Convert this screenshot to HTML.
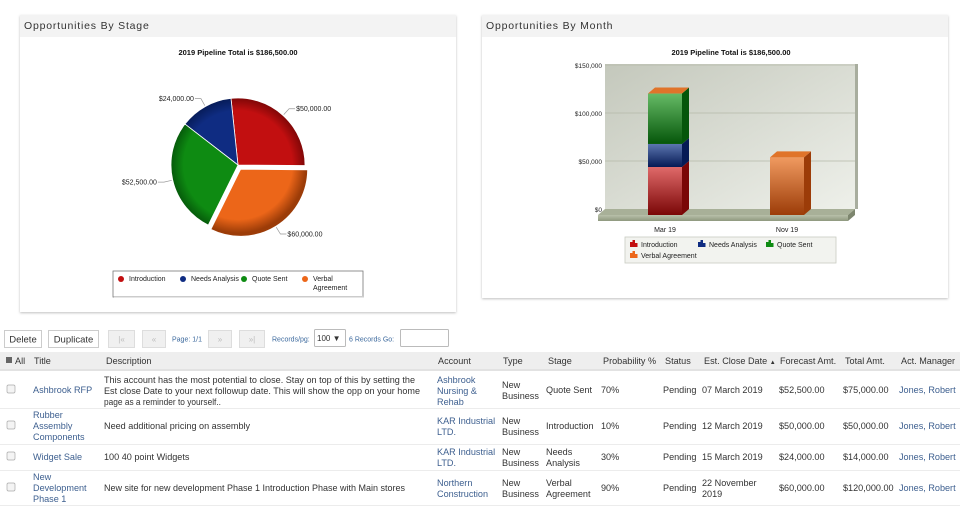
<!DOCTYPE html>
<html><head><meta charset="utf-8">
<style>
html,body{margin:0;padding:0;background:#fff;width:960px;height:507px;overflow:hidden}
svg{display:block;font-family:"Liberation Sans",Arial,sans-serif}
</style></head>
<body>
<svg id="page" width="960" height="507" viewBox="0 0 960 507" xmlns="http://www.w3.org/2000/svg">
<defs>
  <filter id="sh" x="-5%" y="-5%" width="110%" height="110%"><feDropShadow dx="0" dy="1" stdDeviation="1.2" flood-color="#000" flood-opacity="0.25"/></filter>
  <linearGradient id="wall" x1="0" y1="0" x2="1" y2="1"><stop offset="0" stop-color="#c4c8bc"/><stop offset="1" stop-color="#eef0ea"/></linearGradient>
  <linearGradient id="floor" x1="0" y1="0" x2="0" y2="1"><stop offset="0" stop-color="#b8c0aa"/><stop offset="1" stop-color="#8e987e"/></linearGradient>
</defs>
<rect x="0" y="0" width="960" height="507" fill="#fff"/>

<g>
  <rect x="20" y="15" width="436" height="297" fill="#fff" filter="url(#sh)"/>
  <rect x="20" y="15" width="436" height="22" fill="#f3f3f3"/>
  <text x="24" y="29" font-size="10.5" letter-spacing="0.8" fill="#333">Opportunities By Stage</text>
  <text x="238" y="55" font-size="7.5" font-weight="bold" text-anchor="middle" fill="#111">2019 Pipeline Total is $186,500.00</text>
  <g id="pie"></g>
  <g>
    <rect x="113" y="271" width="250" height="26" fill="#fff" stroke="#777" stroke-width="0.8"/>
    <rect x="114" y="296" width="250" height="1.5" fill="#ccc"/>
    <g id="pieLegend"></g>
  </g>
</g>

<g>
  <rect x="482" y="15" width="466" height="283" fill="#fff" filter="url(#sh)"/>
  <rect x="482" y="15" width="466" height="22" fill="#f3f3f3"/>
  <text x="486" y="29" font-size="10.5" letter-spacing="0.8" fill="#333">Opportunities By Month</text>
  <text x="731" y="55" font-size="7.5" font-weight="bold" text-anchor="middle" fill="#111">2019 Pipeline Total is $186,500.00</text>
  <g id="bars"></g>
  <g>
    <rect x="625" y="237" width="211" height="26" fill="#f2f3ef" stroke="#c8cbc2" stroke-width="0.8"/>
    <g id="barLegend"></g>
  </g>
</g>

<g font-size="9.5">
  <g><rect x="4.5" y="330.5" width="37" height="17" fill="#fff" stroke="#ccc"/><text x="23" y="342.5" text-anchor="middle" fill="#333">Delete</text></g>
  <g><rect x="48.5" y="330.5" width="50" height="17" fill="#fff" stroke="#ccc"/><text x="73.5" y="342.5" text-anchor="middle" fill="#333">Duplicate</text></g>
  <g><rect x="108.5" y="330.5" width="26" height="17" fill="#f0f0f0" stroke="#ddd"/><text x="121.5" y="342" text-anchor="middle" fill="#bbb" font-size="8">|«</text></g>
  <g><rect x="142.5" y="330.5" width="23" height="17" fill="#f0f0f0" stroke="#ddd"/><text x="154" y="342" text-anchor="middle" fill="#bbb" font-size="8">«</text></g>
  <text x="172" y="341.5" font-size="7" fill="#3d6a9e">Page: 1/1</text>
  <g><rect x="208.5" y="330.5" width="23" height="17" fill="#f0f0f0" stroke="#ddd"/><text x="220" y="342" text-anchor="middle" fill="#bbb" font-size="8">»</text></g>
  <g><rect x="239.5" y="330.5" width="25" height="17" fill="#f0f0f0" stroke="#ddd"/><text x="252" y="342" text-anchor="middle" fill="#bbb" font-size="8">»|</text></g>
  <text x="272" y="341.5" font-size="7" fill="#3d6a9e">Records/pg:</text>
  <g><rect x="314.5" y="329.5" width="31" height="17" fill="#fff" stroke="#bbb" rx="1"/><text x="317" y="341" font-size="8" fill="#333">100 ▼</text></g>
  <text x="349" y="341.5" font-size="7" fill="#3d6a9e">6 Records  Go:</text>
  <rect x="400.5" y="329.5" width="48" height="17" fill="#fff" stroke="#bbb" rx="1"/>
</g>

<g font-size="9.1" fill="#333">
  <rect x="0" y="352" width="960" height="18" fill="#eeeeee"/>
  <rect x="0" y="369" width="960" height="2" fill="#e2e2e2"/>
  <g fill="#333">
    <rect x="6" y="357" width="6" height="6" fill="#666"/>
    <text x="15" y="364">All</text>
    <text x="34" y="364">Title</text>
    <text x="106" y="364">Description</text>
    <text x="438" y="364">Account</text>
    <text x="503" y="364">Type</text>
    <text x="548" y="364">Stage</text>
    <text x="603" y="364">Probability %</text>
    <text x="665" y="364">Status</text>
    <text x="704" y="364">Est. Close Date <tspan font-size="6">▲</tspan></text>
    <text x="780" y="364">Forecast Amt.</text>
    <text x="845" y="364">Total Amt.</text>
    <text x="901" y="364">Act. Manager</text>
  </g>
  <g stroke="#ececec" stroke-width="1">
    <line x1="0" y1="408.5" x2="960" y2="408.5"/><line x1="0" y1="444.5" x2="960" y2="444.5"/><line x1="0" y1="470.5" x2="960" y2="470.5"/><line x1="0" y1="505.5" x2="960" y2="505.5"/>
  </g>
  <g>
    <rect x="7" y="385" width="8" height="8" rx="1.5" fill="#f4f4f4" stroke="#aaa" stroke-width="0.7"/>
    <text x="33" y="393" fill="#3d5f8f">Ashbrook RFP</text>
    <text x="104" y="383" textLength="311" lengthAdjust="spacingAndGlyphs">This account has the most potential to close. Stay on top of this by setting the</text>
    <text x="104" y="394" textLength="316" lengthAdjust="spacingAndGlyphs">Est close Date to your next followup date. This will show the opp on your home</text>
    <text x="104" y="405" textLength="117" lengthAdjust="spacingAndGlyphs">page as a reminder to yourself..</text>
    <text x="437" y="383" fill="#3d5f8f">Ashbrook</text><text x="437" y="394" fill="#3d5f8f">Nursing &amp;</text><text x="437" y="405" fill="#3d5f8f">Rehab</text>
    <text x="502" y="388">New</text><text x="502" y="399">Business</text>
    <text x="546" y="393">Quote Sent</text><text x="601" y="393">70%</text><text x="663" y="393">Pending</text>
    <text x="702" y="393">07 March 2019</text><text x="779" y="393">$52,500.00</text><text x="843" y="393">$75,000.00</text>
    <text x="899" y="393" fill="#3d5f8f">Jones, Robert</text>
  </g>
  <g>
    <rect x="7" y="421" width="8" height="8" rx="1.5" fill="#f4f4f4" stroke="#aaa" stroke-width="0.7"/>
    <text x="33" y="418" fill="#3d5f8f">Rubber</text><text x="33" y="429" fill="#3d5f8f">Assembly</text><text x="33" y="440" fill="#3d5f8f">Components</text>
    <text x="104" y="429">Need additional pricing on assembly</text>
    <text x="437" y="424" fill="#3d5f8f">KAR Industrial</text><text x="437" y="435" fill="#3d5f8f">LTD.</text>
    <text x="502" y="424">New</text><text x="502" y="435">Business</text>
    <text x="546" y="429">Introduction</text><text x="601" y="429">10%</text><text x="663" y="429">Pending</text>
    <text x="702" y="429">12 March 2019</text><text x="779" y="429">$50,000.00</text><text x="843" y="429">$50,000.00</text>
    <text x="899" y="429" fill="#3d5f8f">Jones, Robert</text>
  </g>
  <g>
    <rect x="7" y="452" width="8" height="8" rx="1.5" fill="#f4f4f4" stroke="#aaa" stroke-width="0.7"/>
    <text x="33" y="460" fill="#3d5f8f">Widget Sale</text>
    <text x="104" y="460">100 40 point Widgets</text>
    <text x="437" y="455" fill="#3d5f8f">KAR Industrial</text><text x="437" y="466" fill="#3d5f8f">LTD.</text>
    <text x="502" y="455">New</text><text x="502" y="466">Business</text>
    <text x="546" y="455">Needs</text><text x="546" y="466">Analysis</text><text x="601" y="460">30%</text><text x="663" y="460">Pending</text>
    <text x="702" y="460">15 March 2019</text><text x="779" y="460">$24,000.00</text><text x="843" y="460">$14,000.00</text>
    <text x="899" y="460" fill="#3d5f8f">Jones, Robert</text>
  </g>
  <g>
    <rect x="7" y="483" width="8" height="8" rx="1.5" fill="#f4f4f4" stroke="#aaa" stroke-width="0.7"/>
    <text x="33" y="480" fill="#3d5f8f">New</text><text x="33" y="491" fill="#3d5f8f">Development</text><text x="33" y="502" fill="#3d5f8f">Phase 1</text>
    <text x="104" y="491" textLength="301" lengthAdjust="spacingAndGlyphs">New site for new development Phase 1 Introduction Phase with Main stores</text>
    <text x="437" y="486" fill="#3d5f8f">Northern</text><text x="437" y="497" fill="#3d5f8f">Construction</text>
    <text x="502" y="486">New</text><text x="502" y="497">Business</text>
    <text x="546" y="486">Verbal</text><text x="546" y="497">Agreement</text><text x="601" y="491">90%</text><text x="663" y="491">Pending</text>
    <text x="702" y="486">22 November</text><text x="702" y="497">2019</text><text x="779" y="491">$60,000.00</text><text x="843" y="491">$120,000.00</text>
    <text x="899" y="491" fill="#3d5f8f">Jones, Robert</text>
  </g>
</g>
</svg>
<script>
// ---- Pie data ----
const stageLabels = ['Introduction','Needs Analysis','Quote Sent','Verbal Agreement'];
const stageValues = [50000, 24000, 52500, 60000];
const stageValueLabels = ['$50,000.00','$24,000.00','$52,500.00','$60,000.00'];
// ---- Bar data ----
const months = ['Mar 19','Nov 19'];
const introByMonth = [50000, 0];
const needsByMonth = [24000, 0];
const quoteByMonth = [52500, 0];
const verbalByMonth = [0, 60000];
const yTickValues = [0, 50000, 100000, 150000];
const yTickLabels = ['$0','$50,000','$100,000','$150,000'];

const NS = 'http://www.w3.org/2000/svg';
function mk(tag, attrs, parent){const e=document.createElementNS(NS,tag);for(const k in attrs)e.setAttribute(k,attrs[k]);if(parent)parent.appendChild(e);return e;}
const colors = ['#c20f10','#0f2c82','#0e8b12','#ec6619'];
const darkColors = ['#7a0606','#061a55','#05560a','#9c3c08'];
const lightColors = ['#e06a6a','#5c76b0','#66bb66','#f09a60'];

const defs = document.querySelector('defs');
colors.forEach((c,i)=>{
  const g = mk('radialGradient',{id:'pg'+i,cx:'238',cy:'165',r:'68',gradientUnits:'userSpaceOnUse'},defs);
  mk('stop',{offset:'0.8','stop-color':c},g);
  mk('stop',{offset:'1','stop-color':darkColors[i]},g);
  const f = mk('linearGradient',{id:'bf'+i,x1:'0',y1:'0',x2:'0',y2:'1'},defs);
  mk('stop',{offset:'0','stop-color':lightColors[i]},f);
  mk('stop',{offset:'1','stop-color':darkColors[i]},f);
});

// ---- Pie (slices run counter-clockwise from 3 o'clock) ----
const pie = document.getElementById('pie');
const cx=238, cy=165, R=67;
const total = stageValues.reduce((a,b)=>a+b,0);
// angle measured clockwise from 12 o'clock; go counter-clockwise (decreasing)
let ang = 90.5*Math.PI/180;
const P = a => [Math.sin(a), -Math.cos(a)];
stageValues.forEach((v,i)=>{
  const a1=ang, a0=ang-v/total*2*Math.PI; ang=a0;
  const mid=(a0+a1)/2;
  const ex = i===3?5:0;
  const ox=cx+ex*Math.sin(mid), oy=cy-ex*Math.cos(mid);
  const x0=ox+R*Math.sin(a0), y0=oy-R*Math.cos(a0), x1=ox+R*Math.sin(a1), y1=oy-R*Math.cos(a1);
  const large=(a1-a0)>Math.PI?1:0;
  const d=`M${ox},${oy} L${x0},${y0} A${R},${R} 0 ${large} 1 ${x1},${y1} Z`;
  const p = mk('path',{d:d,fill:'url(#pg'+i+')',stroke:'#fff','stroke-width':'0.8'},pie);
  
  
  const sx=ox+(R+1)*Math.sin(mid), sy=oy-(R+1)*Math.cos(mid);
  const lx=ox+(R+9)*Math.sin(mid), ly=oy-(R+9)*Math.cos(mid);
  const right=Math.sin(mid)>=0;
  const ex2 = lx+(right?6:-6);
  const ln = mk('polyline',{points:`${sx},${sy} ${lx},${ly} ${ex2},${ly}`,fill:'none',stroke:'#999','stroke-width':'0.7'},pie);
  
  
  const t = mk('text',{x:ex2+(right?1:-1),y:ly+2.5,'font-size':'7','text-anchor':right?'start':'end',fill:'#222'},pie);
  t.textContent = stageValueLabels[i];
  
  
});
const pl = document.getElementById('pieLegend');
const plx=[121,183,244,305];
stageLabels.forEach((s,i)=>{
  const g=mk('g',{},pl);
  
  
  mk('circle',{cx:plx[i],cy:279,r:3,fill:colors[i]},g);
  if(i===3){
    const t1=mk('text',{x:plx[i]+8,y:281,'font-size':'7',fill:'#222'},g);t1.textContent='Verbal';
    const t2=mk('text',{x:plx[i]+8,y:290,'font-size':'7',fill:'#222'},g);t2.textContent='Agreement';
  } else {
    const t=mk('text',{x:plx[i]+8,y:281,'font-size':'7',fill:'#222'},g);t.textContent=s;
  }
});

// ---- Bars ----
const bars = document.getElementById('bars');
const base=215, k=0.96/1000, dx=7, dy=-6;
const yF = v => base - v*k;
const xC = i => 665 + i*122;
const bw = 34;
const wall = mk('polygon',{points:`605,64 855,64 855,${yF(0)+dy} 605,${yF(0)+dy}`,fill:'url(#wall)'},bars);


mk('rect',{x:855,y:64,width:3,height:yF(0)+dy-64,fill:'#a8ad9e'},bars);
yTickValues.forEach((v,i)=>{
  const y=yF(v)+dy;
  if(v>0){const l=mk('line',{x1:605,y1:y,x2:855,y2:y,stroke:'#b4b8a8','stroke-width':'0.8'},bars);
    
    }
  const t=mk('text',{x:602,y:y+3,'font-size':'6.5','text-anchor':'end',fill:'#222'},bars);
  t.textContent=yTickLabels[i];
  
  
});
const fl=mk('polygon',{points:`598,${base} 605,${base+dy} 855,${base+dy} 848,${base}`,fill:'#a8b098'},bars);


mk('rect',{x:598,y:base,width:250,height:6,fill:'url(#floor)'},bars);
mk('polygon',{points:`848,${base} 855,${base+dy} 855,${base+dy+6} 848,${base+6}`,fill:'#7d866e'},bars);
const series=[introByMonth,needsByMonth,quoteByMonth,verbalByMonth];
months.forEach((m,ci)=>{
  let acc=0;
  const x0=xC(ci)-bw/2, x1=xC(ci)+bw/2;
  series.forEach((s,si)=>{
    const v=s[ci]; if(v<=0) return;
    const yb=yF(acc), yt=yF(acc+v); acc+=v;
    const f=mk('rect',{x:x0,y:yt,width:bw,height:yb-yt,fill:'url(#bf'+si+')'},bars);
    
    
    const sd=mk('polygon',{points:`${x1},${yt} ${x1+dx},${yt+dy} ${x1+dx},${yb+dy} ${x1},${yb}`,fill:darkColors[si]},bars);
    
    
  });
  const yt=yF(acc);
  const top=mk('polygon',{points:`${x0},${yt} ${x0+dx},${yt+dy} ${x1+dx},${yt+dy} ${x1},${yt}`,fill:'#e0742a'},bars);
  
  
  const t=mk('text',{x:xC(ci),y:232,'font-size':'7','text-anchor':'middle',fill:'#222'},bars);
  t.textContent=m;
  
  
});
const bl=document.getElementById('barLegend');
const blPos=[[630,247],[698,247],[766,247],[630,258]];
stageLabels.forEach((s,i)=>{
  const g=mk('g',{},bl);
  
  
  const [x,y]=blPos[i];
  mk('rect',{x:x,y:y-5,width:2.5,height:5,fill:colors[i]},g);
  mk('rect',{x:x+2.5,y:y-7,width:2.5,height:7,fill:colors[i]},g);
  mk('rect',{x:x+5,y:y-4,width:2.5,height:4,fill:colors[i]},g);
  const t=mk('text',{x:x+11,y:y,'font-size':'7',fill:'#222'},g);t.textContent=s;
});
</script>
</body></html>
